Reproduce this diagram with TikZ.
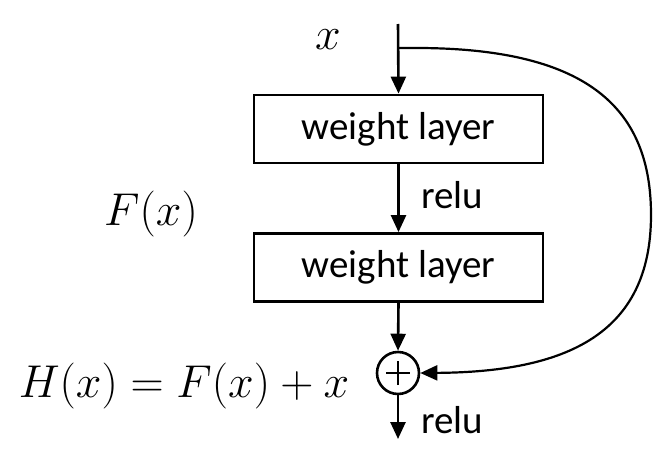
\RequirePackage{fix-cm}
\documentclass[tikz,border=0pt]{standalone}
\usepackage{fontspec}
\setmainfont{Carlito}
\usetikzlibrary{arrows.meta}
\begin{document}
\begin{tikzpicture}[x=1pt,y=-1pt,
  every path/.style={line width=2.6pt},
  layer/.style={draw, line width=2.8pt, minimum width=289pt, minimum height=68pt, inner sep=0pt, font=\fontsize{39}{44}\selectfont},
  lbl/.style={font=\fontsize{39}{44}\selectfont, inner sep=0pt},
  mathlbl/.style={font=\fontsize{46}{50}\selectfont, inner sep=0pt, anchor=base},
  sumnode/.style={draw, circle, line width=2.6pt, minimum size=42pt, inner sep=0pt},
  arr/.style={-{Triangle[length=17pt,width=15pt]}, line width=2.6pt}]
\useasboundingbox (0,0) rectangle (663,455);
\node[layer] (w1) at (398.5,129) {weight layer};
\node[layer] (w2) at (398.5,267.5) {weight layer};
\node[sumnode] (sum) at (398,373) {};
\coordinate (top) at (398,24);
\coordinate (br) at (398,48);
\coordinate (out) at (398,439);
\draw[arr] (top) -- (w1.north);
\draw[arr] (w1.south) -- (w2.north);
\draw[arr] (w2.south) -- (sum.north);
\draw[arr] (sum.south) -- (out);
\draw[line width=2.4pt] ([xshift=-12pt]sum.center) -- ([xshift=12pt]sum.center);
\draw[line width=2.4pt] ([yshift=-12pt]sum.center) -- ([yshift=12pt]sum.center);
\draw[arr, line width=2.2pt] (br) -- (420,48) .. controls (590,49) and (651,110) .. (651,215) .. controls (651,335) and (565,372) .. (sum.east);
\node[lbl, anchor=west] (relu1) at (420,195) {relu};
\node[lbl, anchor=west] (relu2) at (420,420) {relu};
\node[mathlbl] (xin) at (328,49) {$x$};
\node[mathlbl] (fx) at (151,225) {$F(x)$};
\node[mathlbl] (hx) at (184,397) {$H(x) = F(x) + x$};
\end{tikzpicture}
\end{document}
